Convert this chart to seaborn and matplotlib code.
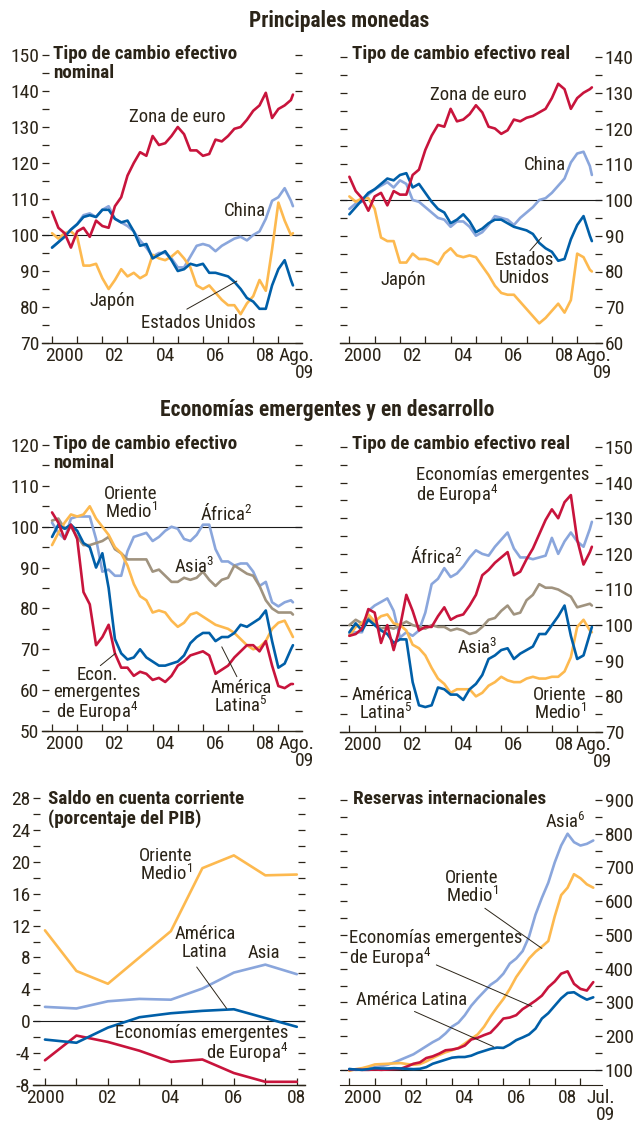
import numpy as np
import pandas as pd
import matplotlib
matplotlib.use("Agg")
import matplotlib.pyplot as plt
from matplotlib import font_manager
import seaborn as sns

# ─── Data ─────────────────────────────────────────────────────────────────
# trimestres ene. 2000 .. jul. 2009 (+ ago. 2009 para tipos de cambio)
QUARTERS = np.append(np.arange(2000, 2009.51, 0.25), 2009.58)
RES_QUARTERS = np.arange(2000, 2009.51, 0.25)
CA_YEARS = np.arange(2000, 2009)

# Principales monedas: tipo de cambio efectivo nominal
EURO_NOM = [106.5, 102, 100.5, 96.5, 101, 102, 99.5, 104, 102.5, 102,
            108, 110.5, 116.5, 120, 123, 122, 127.5, 125, 125.5, 127.5,
            130, 128, 123.5, 123.5, 122, 122.5, 126.5, 126, 127.5, 129.5,
            130, 132, 134.5, 136, 139.5, 132.5, 135, 136, 137.5, 139]
CHINA_NOM = [96.5, 98, 100, 101.5, 103, 105.5, 106, 105, 107, 108,
             104.5, 103.5, 102.5, 101, 98.5, 96.5, 94, 95, 95, 93.5,
             91, 91, 94, 97, 97.5, 97, 95.5, 97, 98, 99,
             99.5, 98.5, 100, 101, 104.5, 109.5, 110.5, 113, 109.5, 108]
US_NOM = [96.5, 98, 99.5, 101.5, 103, 105, 105.5, 105, 107, 107,
          104.5, 103.5, 104, 101, 97, 97.5, 93.5, 94.5, 95.5, 93,
          90, 90.5, 92, 91.5, 92, 89.5, 89.5, 89, 88.5, 87,
          85, 82.5, 81.5, 79.5, 79.5, 86, 90.5, 93, 87.5, 86]
JAPAN_NOM = [100.5, 99, 100.5, 101, 99.5, 91.5, 91.5, 92, 88, 85,
             87.5, 90.5, 88.5, 89.5, 88, 89, 94.5, 93.5, 93, 94,
             95.5, 93.5, 91, 86, 85, 86, 84, 82, 80.5, 80.5,
             78, 81, 83, 87.5, 84.5, 96, 109, 104, 100, 100.5]

# Principales monedas: tipo de cambio efectivo real
EURO_REAL = [106.5, 102.5, 100.5, 97, 101, 102, 98.5, 102.5, 101.5, 101.5,
             107, 108.5, 114, 118, 121, 120.5, 125.5, 122, 122.5, 124,
             126.5, 124.5, 120.5, 120, 118.5, 119.5, 122.5, 122, 123, 123.5,
             124.5, 125.5, 128.5, 132.5, 131, 125.5, 128.5, 130, 131, 131.5]
CHINA_REAL = [97.5, 99, 99.5, 101.5, 103, 104, 105, 103.5, 105.5, 104.5,
              100, 99.5, 98, 96.5, 95, 94.5, 92.5, 94, 94, 92.5,
              90, 91, 93, 95.5, 95, 94.5, 93, 95, 96.5, 98,
              100, 100.5, 102, 104, 106, 110.5, 113, 113.5, 109.5, 107]
US_REAL = [96, 98, 100, 102, 103, 104.5, 106, 105.5, 107, 107.5,
           103.5, 104.5, 102, 99.5, 97.5, 96.5, 93.5, 94.5, 96, 94,
           91, 92, 93.5, 94.5, 94.5, 93.5, 92.5, 92, 91.5, 90.5,
           88, 86.5, 85.5, 83, 83.5, 89, 93, 95.5, 90, 88.5]
JAPAN_REAL = [101, 99.5, 100.5, 100.5, 97.5, 89.5, 88.5, 88.5, 82.5, 82.5,
              85, 83.5, 83.5, 83, 82, 85, 86.5, 84.5, 84, 84.5,
              84, 81.5, 79, 76, 74, 73.5, 73.5, 71.5, 69.5, 67.5,
              65.5, 67, 69, 71, 68.5, 72, 85, 84, 80.5, 80]

# Economías emergentes: tipo de cambio efectivo nominal
EME_NOM = [103.5, 101, 97, 100.5, 97, 84, 81, 71, 73, 76,
           69, 65.5, 65.5, 63.5, 64.5, 64, 62.5, 63, 62, 63.5,
           66, 67, 68.5, 69, 69.5, 68.5, 64, 65, 66, 68,
           69.5, 71, 71, 69.5, 72, 66, 61, 60.5, 61.5, 61.5]
LATAM_NOM = [97.5, 100.5, 99.5, 100.5, 99, 96, 95, 90, 93.5, 85,
             72.5, 69, 67.5, 68, 70, 68, 67, 66, 66, 66.5,
             67, 68.5, 71.5, 73, 74, 74, 72, 73, 73, 74,
             76, 75.5, 76.5, 77.5, 79.5, 72, 65.5, 66.5, 70, 71]
AFRICA_NOM = [101, 98.5, 97, 102, 102.5, 102.5, 102.5, 97, 89, 89.5,
              88, 88, 94, 97.5, 98, 98.5, 96.5, 97.5, 99, 100,
              99.5, 97, 96.5, 98, 100.5, 100.5, 94.5, 91.5, 91.5, 90.5,
              91, 91, 89, 85.5, 86.5, 81.5, 80.5, 81.5, 82, 81.5]
OM_NOM = [95.5, 98.5, 101, 103, 102.5, 103, 105, 102, 100, 98,
          95, 93.5, 90.5, 86, 83, 82, 79, 79.5, 79, 77,
          75.5, 76.5, 78.5, 79, 78, 77, 76, 75.5, 75, 74,
          72.5, 71, 70, 70.5, 72, 75, 76.5, 77, 74, 73]
ASIA_NOM = [101.5, 102, 99.5, 100, 97.5, 95.5, 95.5, 96, 96.5, 97.5,
            94.5, 93.5, 92, 92, 92, 92, 89, 89.5, 88, 86.5,
            86.5, 87.5, 87, 87.5, 89, 87, 85.5, 87, 87.5, 90.5,
            89.5, 88.5, 88, 85.5, 82, 80, 79, 79, 79, 78.5]

# Economías emergentes: tipo de cambio efectivo real
EME_REAL = [97, 97.5, 99, 104.5, 103.5, 95, 100, 93, 99.5, 108.5,
            104, 98.5, 99.5, 99.5, 102.5, 105, 101.5, 102.5, 103, 105.5,
            108.5, 114, 115.5, 117.5, 119, 120.5, 114, 115, 118.5, 121.5,
            125.5, 129.5, 132.5, 130, 134.5, 136.5, 124, 117, 120.5, 122]
AFRICA_REAL = [97.5, 98, 98, 104, 105.5, 106.5, 107.5, 104, 96.5, 98,
               97, 98.5, 103.5, 111.5, 113, 116, 113.5, 114.5, 116.5, 119,
               121, 120, 119.5, 122, 124, 126, 121.5, 119, 119, 118.5,
               119, 119.5, 124.5, 120, 123.5, 126, 123.5, 122, 127, 129]
ASIA_REAL = [100, 101.5, 100.5, 102, 100.5, 99, 99.5, 99, 100, 101,
             100, 99.5, 99, 100, 99.5, 99.5, 98.5, 99, 98.5, 97.5,
             98, 99.5, 101.5, 102, 104, 105.5, 103, 103.5, 107, 108.5,
             111.5, 110.5, 110.5, 110, 109, 108, 105, 105.5, 106, 105.5]
LATAM_REAL = [98, 100.5, 98.5, 101.5, 100, 98.5, 97.5, 95, 96, 96,
              84, 77.5, 77, 77.5, 82.5, 82, 80.5, 80.5, 79, 82,
              83.5, 86, 90.5, 91.5, 93, 93.5, 90.5, 92, 93, 94,
              97.5, 97.5, 100, 102.5, 105.5, 97, 90.5, 91.5, 97.5, 99.5]
OM_REAL = [97, 99.5, 100.5, 103, 101, 102.5, 103, 100.5, 100, 98.5,
           94.5, 93.5, 91.5, 88, 85, 83.5, 81, 82, 82, 82,
           80, 81, 83, 84, 85.5, 84.5, 84, 84, 85, 85.5,
           85, 85, 85.5, 85.5, 87, 91, 99.5, 101.5, 98.5, 98]

# Saldo en cuenta corriente (porcentaje del PIB), anual
CA_OM = [11.4, 6.3, 4.7, 8.0, 11.3, 19.2, 20.8, 18.3, 18.4]
CA_ASIA = [1.8, 1.6, 2.5, 2.8, 2.7, 4.1, 6.1, 7.1, 5.9]
CA_LATAM = [-2.3, -2.7, -0.8, 0.5, 1.0, 1.3, 1.5, 0.4, -0.7]
CA_EME = [-4.9, -1.8, -2.6, -3.7, -5.1, -4.8, -6.5, -7.6, -7.6]

# Reservas internacionales (índice)
RES_ASIA = [103, 100, 101, 104, 108, 111, 115, 122, 130, 138,
            146, 158, 170, 182, 192, 208, 228, 240, 262, 290,
            312, 332, 352, 365, 385, 415, 430, 452, 495, 560,
            610, 655, 715, 765, 800, 775, 765, 770, 780]
RES_OM = [97, 102, 105, 110, 116, 117, 118, 119, 120, 117,
          115, 117, 125, 135, 144, 152, 158, 165, 178, 192,
          205, 228, 258, 285, 310, 340, 375, 402, 430, 450,
          465, 482, 555, 618, 640, 680, 668, 650, 640]
RES_EME = [100, 101, 100, 100, 101, 100, 101, 102, 103, 110,
           118, 122, 135, 140, 148, 158, 160, 164, 172, 190,
           195, 203, 210, 230, 252, 255, 262, 280, 292, 305,
           320, 345, 362, 385, 392, 355, 340, 335, 360]
RES_LATAM = [102, 101, 100, 102, 105, 104, 104, 105, 104, 103,
             102, 103, 108, 118, 124, 130, 136, 138, 138, 142,
             150, 156, 162, 166, 165, 175, 188, 196, 205, 222,
             252, 268, 290, 312, 328, 330, 318, 308, 315]

# ─── Style ────────────────────────────────────────────────────────────────
RED = "#c8143c"
BLUE = "#005fa8"
LIGHT = "#8aa6dc"
YELLOW = "#fdb94f"
TAUPE = "#a0937f"
DARK = "#2b2418"
LW = 1.9

sns.set_style("white")
available = {f.name for f in font_manager.fontManager.ttflist}
FONT = next((f for f in ["Liberation Sans Narrow", "Roboto Condensed", "Open Sans Condensed"]
             if f in available), "Liberation Sans")
plt.rcParams["font.family"] = [FONT, "DejaVu Sans"]
plt.rcParams["mathtext.fontset"] = "custom"
plt.rcParams["mathtext.rm"] = FONT
plt.rcParams["mathtext.it"] = FONT
plt.rcParams["axes.unicode_minus"] = False
plt.rcParams["text.color"] = DARK

W, H = 637, 1127
fig = plt.figure(figsize=(W / 100, H / 100), dpi=100)


def add_ax(left, top, right, bottom):
    return fig.add_axes([left / W, 1 - bottom / H, (right - left) / W, (bottom - top) / H])


def draw_lines(ax, x, series, palette):
    df = pd.concat([pd.DataFrame({"year": x, "value": v, "serie": k}) for k, v in series.items()],
                   ignore_index=True)
    sns.lineplot(data=df, x="year", y="value", hue="serie", hue_order=list(series),
                 palette=palette, linewidth=LW, legend=False, estimator=None, sort=False, ax=ax)
    ax.set_xlabel("")
    ax.set_ylabel("")


def style_panel(ax, ylim, ystep, xlim, side, base):
    ax.set_xlim(*xlim)
    ax.set_yticks(np.arange(ylim[0], ylim[1] + 0.1, ystep))
    ax.set_yticks(np.arange(ylim[0] + ystep / 2, ylim[1], ystep), minor=True)
    ax.set_ylim(*ylim)
    for s in ["top", "left", "right"]:
        ax.spines[s].set_visible(False)
    ax.spines["bottom"].set_color(DARK)
    ax.spines["bottom"].set_linewidth(1.0)
    ax.tick_params(axis="y", which="both", direction="in", length=5, width=0.9, color=DARK,
                   left=True, right=True, labelleft=(side == "left"),
                   labelright=(side == "right"), labelsize=14, labelcolor=DARK, pad=2)
    ax.axhline(base, color="#1a1a1a", lw=0.8, zorder=1)


def monthly_xaxis(ax, end_label, end_x):
    ax.set_xticks(range(2000, 2010))
    ax.set_xticklabels([])
    ax.set_xticks([2000.5, 2002.5, 2004.5, 2006.5, 2008.5], minor=True)
    ax.set_xticklabels(["2000", "02", "04", "06", "08"], minor=True)
    ax.tick_params(axis="x", which="major", direction="in", length=5, width=0.9,
                   color=DARK, bottom=True)
    ax.tick_params(axis="x", which="minor", length=0, pad=3, labelsize=14, labelcolor=DARK)
    ax.annotate(end_label, xy=(end_x, 0), xycoords=("data", "axes fraction"),
                xytext=(0, -3), textcoords="offset points", ha="right", va="top",
                multialignment="right", fontsize=14, color=DARK, linespacing=0.95,
                annotation_clip=False)


def label(ax, x, y, s, ha="center", size=13.5):
    ax.text(x, y, s, ha=ha, va="center", multialignment=ha, fontsize=size,
            color=DARK, linespacing=0.95, zorder=5)


def leader(ax, p0, p1):
    ax.annotate("", xy=p1, xytext=p0,
                arrowprops=dict(arrowstyle="-", color=DARK, lw=0.7, shrinkA=0, shrinkB=0))


def title(x, y, s):
    fig.text(x / W, 1 - y / H, s, ha="left", va="top", fontsize=13.8,
             fontweight="bold", color=DARK, linespacing=1.08)


XL_LEFT = (1999.6, 2009.94)
XL_RIGHT = (1999.63, 2009.98)

# ─── Principales monedas ─────────────────────────────────────────────────
pal_main = {"China": LIGHT, "Japón": YELLOW, "Estados Unidos": BLUE, "Zona de euro": RED}

ax1 = add_ax(42, 55, 302, 343)
draw_lines(ax1, QUARTERS, {"China": CHINA_NOM, "Japón": JAPAN_NOM,
                           "Estados Unidos": US_NOM, "Zona de euro": EURO_NOM}, pal_main)
style_panel(ax1, (70, 150), 10, XL_LEFT, "left", 100)
monthly_xaxis(ax1, "Ago.\n09", 2010.42)
label(ax1, 2004.97, 132.9, "Zona de euro")
label(ax1, 2007.68, 106.7, "China")
label(ax1, 2002.38, 81.7, "Japón")
label(ax1, 2005.83, 75.6, "Estados Unidos")
leader(ax1, (2005.36, 79.4), (2007.35, 87.2))
title(53, 45, "Tipo de cambio efectivo\nnominal")

ax2 = add_ax(340, 57, 602, 343)
draw_lines(ax2, QUARTERS, {"China": CHINA_REAL, "Japón": JAPAN_REAL,
                           "Estados Unidos": US_REAL, "Zona de euro": EURO_REAL}, pal_main)
style_panel(ax2, (60, 140), 10, XL_RIGHT, "right", 100)
monthly_xaxis(ax2, "Ago.\n09", 2010.37)
label(ax2, 2005.09, 129.4, "Zona de euro")
label(ax2, 2007.72, 109.9, "China")
label(ax2, 2002.13, 77.5, "Japón")
label(ax2, 2006.93, 80.7, "Estados\nUnidos")
leader(ax2, (2007.13, 85.8), (2007.59, 89.5))
title(352, 45, "Tipo de cambio efectivo real")

# ─── Economías emergentes y en desarrollo ────────────────────────────────
pal_em = {"África": LIGHT, "Asia": TAUPE, "Oriente Medio": YELLOW,
          "América Latina": BLUE, "Europa": RED}

ax3 = add_ax(42, 445, 302, 731)
draw_lines(ax3, QUARTERS, {"África": AFRICA_NOM, "Asia": ASIA_NOM, "Oriente Medio": OM_NOM,
                           "América Latina": LATAM_NOM, "Europa": EME_NOM}, pal_em)
style_panel(ax3, (50, 120), 10, XL_LEFT, "left", 100)
monthly_xaxis(ax3, "Ago.\n09", 2010.42)
label(ax3, 2003.14, 105.6, "Oriente\nMedio$^{1}$")
label(ax3, 2006.91, 103.3, "África$^{2}$")
label(ax3, 2005.64, 90.2, "Asia$^{3}$")
label(ax3, 2001.79, 58.8, "Econ.\nemergentes\nde Europa$^{4}$")
leader(ax3, (2001.92, 66.0), (2002.52, 69.0))
label(ax3, 2007.51, 58.2, "América\nLatina$^{5}$")
leader(ax3, (2007.35, 63.3), (2006.75, 70.6))
title(53, 435, "Tipo de cambio efectivo\nnominal")

ax4 = add_ax(340, 447, 602, 732)
draw_lines(ax4, QUARTERS, {"África": AFRICA_REAL, "Asia": ASIA_REAL, "Oriente Medio": OM_REAL,
                           "América Latina": LATAM_REAL, "Europa": EME_REAL}, pal_em)
style_panel(ax4, (70, 150), 10, XL_RIGHT, "right", 100)
monthly_xaxis(ax4, "Ago.\n09", 2010.37)
label(ax4, 2002.63, 138.9, "Economías emergentes\nde Europa$^{4}$", ha="left")
label(ax4, 2003.45, 119.4, "África$^{2}$")
label(ax4, 2005.05, 93.7, "Asia$^{3}$")
label(ax4, 2002.5, 77.7, "América\nLatina$^{5}$", ha="right")
label(ax4, 2009.37, 77.7, "Oriente\nMedio$^{1}$", ha="right")
title(352, 435, "Tipo de cambio efectivo real")

# ─── Saldo en cuenta corriente ───────────────────────────────────────────
pal_low = {"Asia": LIGHT, "Oriente Medio": YELLOW, "América Latina": BLUE, "Europa": RED}

ax5 = add_ax(33, 798, 305, 1085)
draw_lines(ax5, CA_YEARS, {"Oriente Medio": CA_OM, "Asia": CA_ASIA,
                           "Europa": CA_EME, "América Latina": CA_LATAM}, pal_low)
style_panel(ax5, (-8, 28), 4, (1999.62, 2008.26), "left", 0)
ax5.set_xticks(range(2000, 2009))
ax5.set_xticklabels(["2000", "", "02", "", "04", "", "06", "", "08"])
ax5.tick_params(axis="x", which="major", direction="in", length=5, width=0.9, color=DARK,
                bottom=True, pad=3, labelsize=14, labelcolor=DARK)
label(ax5, 2004.69, 19.5, "Oriente\nMedio$^{1}$", ha="right")
label(ax5, 2005.08, 9.8, "América\nLatina")
leader(ax5, (2004.82, 6.8), (2005.77, 1.6))
label(ax5, 2006.96, 8.6, "Asia")
label(ax5, 2007.73, -2.9, "Economías emergentes\nde Europa$^{4}$", ha="right")
title(48, 790, "Saldo en cuenta corriente\n(porcentaje del PIB)")

# ─── Reservas internacionales ────────────────────────────────────────────
ax6 = add_ax(340, 800, 602, 1085)
draw_lines(ax6, RES_QUARTERS, {"Asia": RES_ASIA, "Oriente Medio": RES_OM,
                               "Europa": RES_EME, "América Latina": RES_LATAM}, pal_low)
ax6.set_xlim(1999.64, 2009.84)
ax6.set_yticks(np.arange(100, 901, 100))
ax6.set_yticks(np.arange(150, 900, 100), minor=True)
ax6.set_ylim(55, 900)
for s in ["top", "left", "right"]:
    ax6.spines[s].set_visible(False)
ax6.spines["bottom"].set_color(DARK)
ax6.tick_params(axis="y", which="both", direction="in", length=5, width=0.9, color=DARK,
                left=True, right=True, labelleft=False, labelright=True,
                labelsize=14, labelcolor=DARK, pad=2)
ax6.axhline(100, color="#1a1a1a", lw=0.8, zorder=1)
monthly_xaxis(ax6, "Jul.\n09", 2010.36)
label(ax6, 2008.41, 836, "Asia$^{6}$")
label(ax6, 2005.80, 641, "Oriente\nMedio$^{1}$", ha="right")
leader(ax6, (2005.28, 579), (2007.50, 460))
label(ax6, 2000.0, 456, "Economías emergentes\nde Europa$^{4}$", ha="left")
leader(ax6, (2003.39, 411), (2007.11, 288))
label(ax6, 2002.44, 307, "América Latina")
leader(ax6, (2002.54, 273), (2005.61, 169))
title(353, 790, "Reservas internacionales")

# ─── Section titles ──────────────────────────────────────────────────────
fig.text(339 / W, 1 - 10 / H, "Principales monedas", ha="center", va="top",
         fontsize=15.5, fontweight="bold", color=DARK)
fig.text(327 / W, 1 - 399 / H, "Economías emergentes y en desarrollo", ha="center",
         va="top", fontsize=15.5, fontweight="bold", color=DARK)

fig.savefig("out.png", dpi=100)
